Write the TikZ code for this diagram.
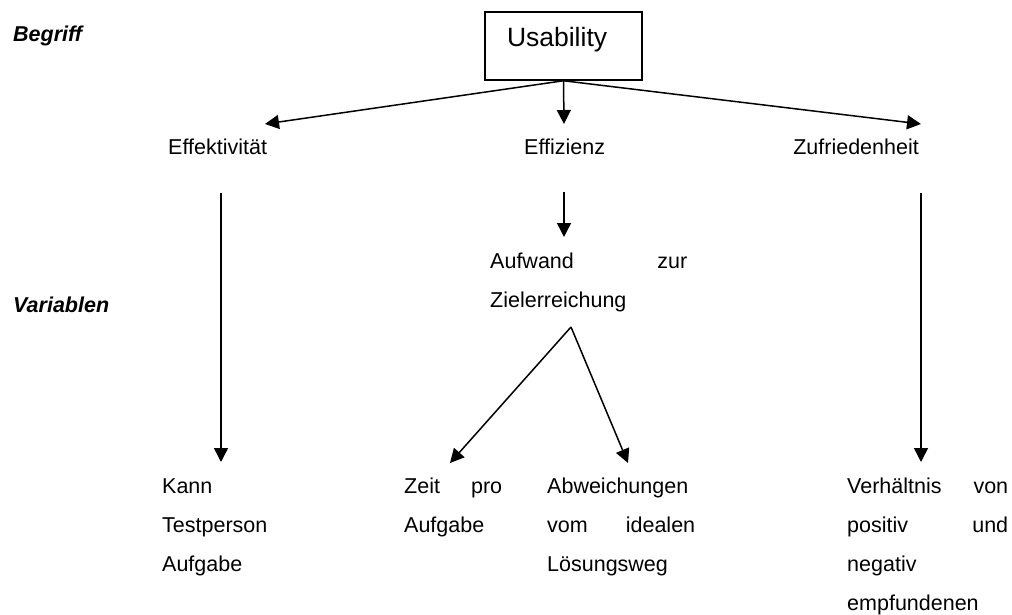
\documentclass[tikz,border=0pt]{standalone}
\usepackage{fontspec}
\setmainfont{Liberation Sans}
\usetikzlibrary{arrows.meta}
\newcommand{\jline}[3]{\makebox[#1][l]{#2\hfill #3}}
\begin{document}
\begin{tikzpicture}[x=1pt,y=-1pt,
  txt/.style={inner sep=0pt, anchor=base west, font=\fontsize{21.5}{39}\selectfont},
  blk/.style={txt, align=left},
  lbl/.style={inner sep=0pt, anchor=base west, font=\fontsize{21.5}{26}\selectfont\bfseries\itshape},
  conn/.style={line width=1.5pt, -{Triangle[length=14pt,width=14pt]}}
]
\useasboundingbox (0,0) rectangle (1012,615);
\fill[white] (0,0) rectangle (1012,615);

% labels
\node[lbl] (begriff) at (13,42) {Begriff};
\node[lbl] (variablen) at (13,312) {Variablen};

% top box
\node[draw, line width=1.5pt, minimum width=157pt, minimum height=68pt,
      inner xsep=22pt, inner ysep=0pt, text width=113pt, align=left,
      text height=14pt, text depth=12pt,
      font=\fontsize{26.5}{30}\selectfont] (usab) at (563.5,46) {Usability};

% level 1
\node[txt] (effk) at (168,155) {Effektivität};
\node[txt] (effz) at (524,155) {Effizienz};
\node[txt, anchor=base east] (zufr) at (919,155) {Zufriedenheit};

% variables
\node[blk, text width=197pt] (aufw) at (490,268)
  {\jline{197pt}{Aufwand}{zur}\\Zielerreichung};

\node[blk, text width=110pt] (kann) at (162,493)
  {Kann\\Testperson\\Aufgabe};
\node[blk, text width=98pt] (zeit) at (404,493)
  {\jline{98pt}{Zeit}{pro}\\Aufgabe};
\node[blk, text width=148pt] (abw) at (547,493)
  {Abweichungen\\\jline{148pt}{vom}{idealen}\\Lösungsweg};
\node[blk, text width=161pt] (verh) at (847,493)
  {\jline{161pt}{Verhältnis}{von}\\\jline{161pt}{positiv}{und}\\negativ\\empfundenen};

% connector points
\coordinate (tEffk) at (265,124);
\coordinate (tEffz) at (564,124);
\coordinate (tZufr) at (921,124);
\coordinate (sEffk) at (221,193);
\coordinate (eKann) at (221,462);
\coordinate (sEffz) at (564,192);
\coordinate (eAufw) at (564,237);
\coordinate (sZufr) at (921,193);
\coordinate (eVerh) at (921,462);
\coordinate (apex) at (571,327);
\coordinate (eZeit) at (450,463);
\coordinate (eAbw) at (628,463);

\draw[conn] (usab.south) -- (tEffk);
\draw[conn] (usab.south) -- (tEffz);
\draw[conn] (usab.south) -- (tZufr);
\draw[conn] (sEffk) -- (eKann);
\draw[conn] (sEffz) -- (eAufw);
\draw[conn] (sZufr) -- (eVerh);
\draw[conn] (apex) -- (eZeit);
\draw[conn] (apex) -- (eAbw);
\end{tikzpicture}
\end{document}
